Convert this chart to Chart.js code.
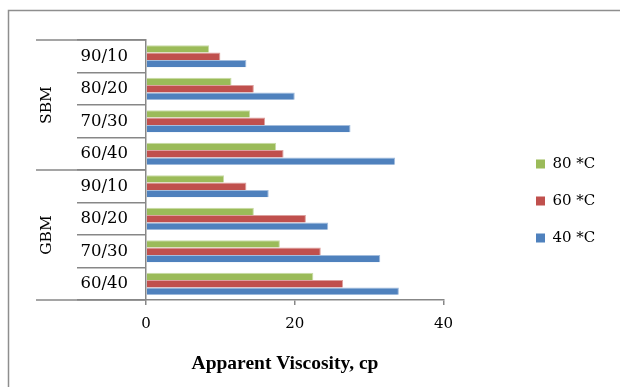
<!DOCTYPE html>
<html>
<head>
<meta charset="utf-8">
<style>
  html, body { margin: 0; padding: 0; background: #ffffff; }
  #wrap { position: relative; width: 620px; height: 387px; }
</style>
<script src="https://cdn.jsdelivr.net/npm/chart.js@4.4.1/dist/chart.umd.min.js"></script>
</head>
<body>
<div id="wrap"><canvas id="c" width="620" height="387"></canvas></div>
<script>
// Blend ratios, listed top to bottom; the first four belong to SBM, the last four to GBM
const categories = ["90/10", "80/20", "70/30", "60/40", "90/10", "80/20", "70/30", "60/40"];
const groups = ["SBM", "GBM"];
const groupSize = 4;

// Apparent viscosity (cp) at each temperature
const seriesLabels = ["80 *C", "60 *C", "40 *C"];
const visc80 = [8.5, 11.5, 14, 17.5, 10.5, 14.5, 18, 22.5];
const visc60 = [10, 14.5, 16, 18.5, 13.5, 21.5, 23.5, 26.5];
const visc40 = [13.5, 20, 27.5, 33.5, 16.5, 24.5, 31.5, 34];

const xTicks = [0, 20, 40];
const axisTitle = "Apparent Viscosity, cp";

const colors = ["#9BBB59", "#C0504D", "#4F81BD"];
const edgeColors = ["#C9DBA6", "#DDA09E", "#A3BDDD"];
const axisGray = "#878787";
const serif = "'DejaVu Serif', serif";

// Frame, grouped category labels, axis title and legend
const decorations = {
  id: 'decorations',
  beforeDraw(chart) {
    const ctx = chart.ctx;
    ctx.save();
    ctx.fillStyle = '#ffffff';
    ctx.fillRect(0, 0, chart.width, chart.height);
    ctx.strokeStyle = '#8e8e8e';
    ctx.lineWidth = 1.5;
    ctx.beginPath();
    ctx.moveTo(8.5, chart.height + 2);
    ctx.lineTo(8.5, 10.5);
    ctx.lineTo(chart.width + 2, 10.5);
    ctx.stroke();
    ctx.restore();
  },
  afterDraw(chart) {
    const ctx = chart.ctx;
    const area = chart.chartArea;
    const y = chart.scales.y;
    const half = (y.getPixelForValue(1) - y.getPixelForValue(0)) / 2;
    ctx.save();

    // long separators between the two groups
    ctx.strokeStyle = axisGray;
    ctx.lineWidth = 1.5;
    for (let g = 0; g <= groups.length; g++) {
      const idx = g * groupSize;
      const py = idx < categories.length ? y.getPixelForValue(idx) - half : y.getPixelForValue(categories.length - 1) + half;
      ctx.beginPath();
      ctx.moveTo(36, py);
      ctx.lineTo(area.left, py);
      ctx.stroke();
    }

    // rotated group names
    ctx.fillStyle = '#000000';
    ctx.font = "15.5px " + serif;
    ctx.textAlign = 'center';
    ctx.textBaseline = 'middle';
    groups.forEach((name, g) => {
      const first = y.getPixelForValue(g * groupSize) - half;
      const last = y.getPixelForValue(g * groupSize + groupSize - 1) + half;
      ctx.save();
      ctx.translate(47, (first + last) / 2);
      ctx.rotate(-Math.PI / 2);
      ctx.fillText(name, 0, 0);
      ctx.restore();
    });

    // x axis title
    ctx.font = "bold 19.5px 'Liberation Serif', serif";
    ctx.textAlign = 'center';
    ctx.fillText(axisTitle, 285, 364);

    // legend
    ctx.font = "15px " + serif;
    ctx.textAlign = 'left';
    chart.data.datasets.forEach((ds, i) => {
      const cy = 164 + 37 * i;
      ctx.fillStyle = ds.backgroundColor;
      ctx.fillRect(536, cy - 4.5, 9, 9);
      ctx.fillStyle = '#000000';
      ctx.fillText(ds.label, 552.5, cy + 0.5);
    });
    ctx.restore();
  }
};

const barEdge = { top: 1, right: 1, bottom: 0, left: 0 };

new Chart(document.getElementById('c'), {
  type: 'bar',
  data: {
    labels: categories,
    datasets: [
      { label: seriesLabels[0], data: visc80, backgroundColor: colors[0], borderColor: edgeColors[0], borderWidth: barEdge },
      { label: seriesLabels[1], data: visc60, backgroundColor: colors[1], borderColor: edgeColors[1], borderWidth: barEdge },
      { label: seriesLabels[2], data: visc40, backgroundColor: colors[2], borderColor: edgeColors[2], borderWidth: barEdge }
    ]
  },
  options: {
    indexAxis: 'y',
    responsive: false,
    animation: false,
    devicePixelRatio: 1,
    layout: { padding: { top: 40, right: 176.5, bottom: 0, left: 0 } },
    datasets: { bar: { categoryPercentage: 0.68, barPercentage: 1.0, borderSkipped: false } },
    plugins: {
      legend: { display: false },
      tooltip: { enabled: false },
      title: { display: false }
    },
    scales: {
      x: {
        type: 'linear',
        min: 0,
        max: 40,
        afterBuildTicks: s => { s.ticks = xTicks.map(v => ({ value: v })); },
        afterFit: s => { s.height = 87; },
        grid: { drawOnChartArea: false, drawTicks: true, tickLength: 5, color: axisGray, lineWidth: 1.5 },
        border: { color: axisGray, width: 1.5 },
        ticks: { color: '#000000', padding: 10, font: { family: serif, size: 15 } }
      },
      y: {
        type: 'category',
        offset: true,
        afterFit: s => { s.width = 146; },
        grid: { offset: true, drawOnChartArea: false, drawTicks: true, tickLength: 69, color: axisGray, lineWidth: 1.5 },
        border: { color: axisGray, width: 1.5 },
        ticks: { color: '#000000', padding: -51, font: { family: serif, size: 16.5 } }
      }
    }
  },
  plugins: [decorations]
});
</script>
</body>
</html>
